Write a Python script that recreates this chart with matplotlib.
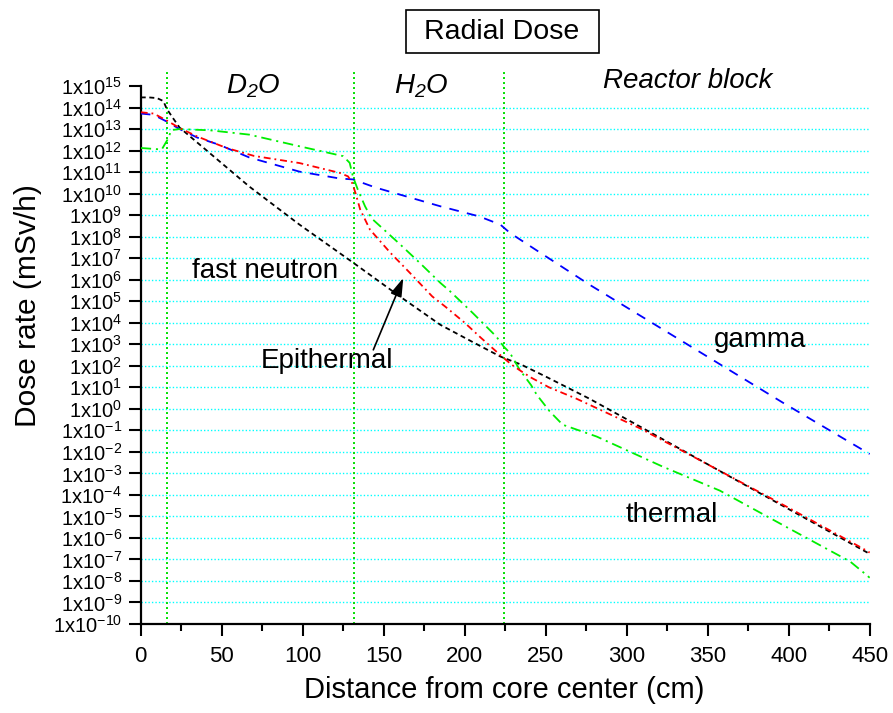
import matplotlib
matplotlib.use('Agg')
import matplotlib.pyplot as plt
from matplotlib.patches import Rectangle
from matplotlib.ticker import FixedLocator, NullLocator

# ---------------- data ----------------
fast_x = [0, 5, 10, 14, 16, 20, 24, 40, 67, 98, 131, 160, 185, 205, 222, 235, 250,
          277, 310, 345, 400, 450]
fast_y = [2.95e14, 2.95e14, 2.75e14, 2.0e14, 8.9e13, 3.16e13, 1.17e13, 1.12e12, 2.14e10,
          3.63e8, 6.3e6, 1.66e5, 8.0e3, 1.26e3, 2.69e2, 1.12e2, 3.16e1, 2.95, 1.26e-1,
          4.27e-3, 2.19e-5, 1.82e-7]

epi_x = [0, 8, 16, 24, 35, 53, 70, 98, 123, 128, 130.5, 132.5, 135.5, 141.5, 154, 166,
         180, 188, 200, 210, 223, 229, 235, 241, 252, 269, 308, 343, 400, 446, 450]
epi_y = [6.03e13, 5.25e13, 2.51e13, 1.12e13, 4.47e12, 1.32e12, 5.62e11, 2.63e11, 9.12e10,
         6.31e10, 3.16e10, 1.12e10, 1.82e9, 2.14e8, 1.82e7, 2.14e6, 1.66e5, 5.62e4, 1.0e4,
         2.0e3, 2.69e2, 1.12e2, 55.0, 28.2, 10.0, 2.95, 1.26e-1, 5.01e-3, 2.51e-5, 3.16e-7,
         2.09e-7]

gamma_x = [0, 8, 16, 24, 35, 48, 67, 98, 123, 131, 145, 185, 209, 222, 228, 246.5, 277,
           396.5, 450]
gamma_y = [5.25e13, 4.57e13, 2.24e13, 1.0e13, 3.98e12, 1.91e12, 4.79e11, 1.05e11, 5.01e10,
           4.57e10, 1.91e10, 2.57e9, 8.71e8, 3.63e8, 1.48e8, 1.82e7, 5.89e5, 1.91, 7.94e-3]

therm_x = [0, 13, 16.5, 19, 24, 43, 67, 98, 125, 129, 131, 134, 138.5, 142.5, 160, 172,
           185, 191, 205, 219.5, 224, 228, 234, 241, 244.5, 252.5, 260.5, 281.5, 322,
           357.5, 400, 438, 448, 450]
therm_y = [1.32e12, 1.12e12, 3.16e12, 8.91e12, 1.0e13, 8.71e12, 5.5e12, 1.58e12, 5.5e11,
           2.69e11, 6.31e10, 1.55e10, 2.57e9, 7.08e8, 4.47e7, 6.31e6, 7.08e5, 2.88e5,
           2.82e4, 2.29e3, 7.94e2, 3.89e2, 64.6, 12.6, 4.47, 0.759, 0.182, 0.0513,
           2.09e-3, 1.58e-4, 2.82e-6, 7.94e-8, 1.91e-8, 1.41e-8]

region_bounds = [16.5, 131.5, 224]
y_exponents = list(range(-10, 16))
x_major = [0, 50, 100, 150, 200, 250, 300, 350, 400, 450]
x_minor = [25, 75, 125, 175, 225, 275, 325, 375, 425]

# ---------------- style ----------------
plt.rcParams['font.family'] = ['Liberation Sans', 'DejaVu Sans']
plt.rcParams['mathtext.fontset'] = 'custom'
plt.rcParams['mathtext.rm'] = 'Liberation Sans'
plt.rcParams['mathtext.it'] = 'Liberation Sans:italic'
plt.rcParams['mathtext.default'] = 'regular'
plt.rcParams['lines.scale_dashes'] = False

fig = plt.figure(figsize=(8.93, 7.13), dpi=100)
ax = fig.add_axes([0.15756, 0.12482, 0.8163, 0.75456])

ax.set_xlim(0, 450)
ax.set_yscale('log')
ax.set_ylim(1e-10, 1e15)

# horizontal cyan dotted grid (interior decades only)
for e in y_exponents[1:-1]:
    ax.axhline(10.0 ** e, color='#00ffff', lw=1.0, ls=(0, (1.0, 1.5)), zorder=0)

# region boundaries
for b in region_bounds:
    ax.axvline(b, ymin=0, ymax=1.03, clip_on=False, color='#00e000', lw=1.4,
               ls=(0, (1.4, 2.2)), zorder=1)

lw = 1.3
ax.plot(fast_x, fast_y, color='black', lw=lw, ls=(0, (3.6, 2.6)), zorder=3)
ax.plot(gamma_x, gamma_y, color='#0000ff', lw=lw, ls=(0, (7.0, 6.0)), zorder=3)
ax.plot(therm_x, therm_y, color='#00ee00', lw=lw, ls=(0, (7.5, 3.5, 1.5, 3.5)), zorder=3)
ax.plot(epi_x, epi_y, color='#ff0000', lw=lw, ls=(0, (5.0, 2.8, 1.3, 2.8)), zorder=4)

# ticks
ax.yaxis.set_major_locator(FixedLocator([10.0 ** e for e in y_exponents]))
ax.yaxis.set_minor_locator(NullLocator())
ax.set_yticklabels(['1x10$^{%d}$' % e for e in y_exponents])
ax.xaxis.set_major_locator(FixedLocator(x_major))
ax.xaxis.set_minor_locator(FixedLocator(x_minor))
ax.set_xticklabels([str(v) for v in x_major])

ax.tick_params(axis='both', which='major', direction='out', length=8.5, width=1.5)
ax.tick_params(axis='x', which='minor', direction='out', length=5, width=1.5)
ax.tick_params(axis='y', labelsize=14.5, pad=5)
ax.tick_params(axis='x', labelsize=16, pad=7)

for s in ['top', 'right']:
    ax.spines[s].set_visible(False)
for s in ['left', 'bottom']:
    ax.spines[s].set_linewidth(1.6)

# axis labels
fig.text(504 / 893, 1 - 690 / 713, 'Distance from core center (cm)', fontsize=21,
         ha='center', va='center')
fig.text(28 / 893, 1 - 306 / 713, 'Dose rate (mSv/h)', fontsize=21.5, rotation=90,
         ha='center', va='center')

# title box
fig.patches.append(Rectangle((406 / 893, 1 - 53 / 713), 193 / 893, 43 / 713,
                             transform=fig.transFigure, fill=False, ec='black', lw=1.2))
fig.text(502 / 893, 1 - 32 / 713, 'Radial Dose', fontsize=20.5, ha='center', va='center')

# region labels
ax.text(69.3, 10 ** 15.0, 'D$_2$O', fontsize=20, style='italic', ha='center',
        va='center', clip_on=False)
ax.text(173, 10 ** 15.0, 'H$_2$O', fontsize=20, style='italic', ha='center',
        va='center', clip_on=False)
ax.text(337.8, 10 ** 15.22, 'Reactor block', fontsize=20, style='italic', ha='center',
        va='center', clip_on=False)

# curve labels
ax.text(77, 10 ** 6.4, 'fast neutron', fontsize=20, ha='center', va='center')
ax.text(382.3, 10 ** 3.2, 'gamma', fontsize=20, ha='center', va='center')
ax.text(327.9, 10 ** -4.95, 'thermal', fontsize=20, ha='center', va='center')
ax.text(115, 10 ** 2.2, 'Epithermal', fontsize=20, ha='center', va='center')
ax.annotate('', xy=(162.1, 10 ** 6.08), xytext=(143.6, 10 ** 2.74),
            arrowprops=dict(arrowstyle='-|>,head_length=0.7,head_width=0.22',
                            color='black', lw=1.2, shrinkA=0, shrinkB=0,
                            mutation_scale=16))

fig.savefig('out.png', dpi=100)
